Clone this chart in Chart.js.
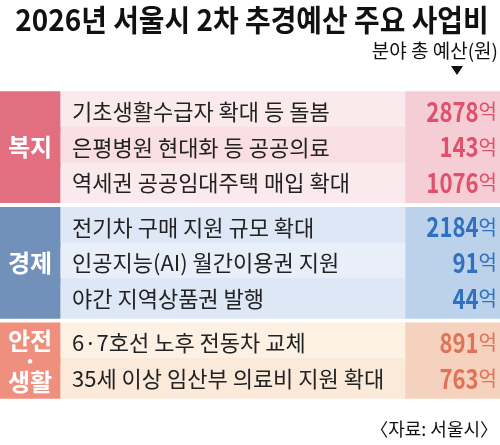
<!DOCTYPE html>
<html><head><meta charset="utf-8">
<script src="https://cdn.jsdelivr.net/npm/chart.js@4"></script>
<style>html,body{margin:0;padding:0;background:#fff}#wrap{width:500px;height:445px}</style>
</head><body><div id="wrap"><canvas id="c"></canvas></div>
<script>
const groups = ['복지', '경제', '안전·생활'];
const items = [
  '기초생활수급자 확대 등 돌봄', '은평병원 현대화 등 공공의료', '역세권 공공임대주택 매입 확대',
  '전기차 구매 지원 규모 확대', '인공지능(AI) 월간이용권 지원', '야간 지역상품권 발행',
  '6·7호선 노후 전동차 교체', '35세 이상 임산부 의료비 지원 확대'
];
const itemGroup = [0, 0, 0, 1, 1, 1, 2, 2];
const budgets = [2878, 143, 1076, 2184, 91, 44, 891, 763]; // 억원

const groupColor = ['#e26f80', '#7191bb', '#ef907f'];
const labelBg = [['#fbeaed', '#f9dfe4'], ['#e8eff9', '#dde7f5'], ['#fdf1e4', '#fbe9da']];
const valueBg = ['#f5cdd4', '#bcd2eb', '#f5d2bd'];
const valueColor = ['#e0506c', '#2f70c0', '#e27257'];

// row positions: each group separated by a small gap
const rowPos = itemGroup.map((g, i) => i + g * 0.25);

function rows(x0, x1, colorFn) {
  return {
    data: rowPos.map(y => ({ x: [x0, x1], y })),
    backgroundColor: rowPos.map((_, i) => colorFn(i)),
    borderWidth: 0, grouped: false, barThickness: 40
  };
}

const textPlugin = {
  id: 'texts',
  afterDatasetsDraw(chart) {
    const ctx = chart.ctx, ys = chart.scales.y, xs = chart.scales.x;
    const F = '"Noto Sans CJK KR", sans-serif';
    ctx.save();
    ctx.textBaseline = 'middle';
    ctx.fillStyle = '#111';
    ctx.textAlign = 'center';
    ctx.font = 'bold 30px ' + F;
    ctx.save();
    ctx.translate(252, 20);
    ctx.scale(0.93, 1);
    ctx.fillText('2026년 서울시 2차 추경예산 주요 사업비', 0, 0);
    ctx.restore();
    ctx.textAlign = 'right';
    ctx.font = '19px ' + F;
    ctx.fillText('분야 총 예산(원)', 498, 51);
    ctx.beginPath();
    ctx.moveTo(451, 66); ctx.lineTo(463, 66); ctx.lineTo(457, 75); ctx.closePath(); ctx.fill();
    ctx.font = '18px ' + F;
    ctx.fillText('〈자료: 서울시〉', 498, 429);

    items.forEach((t, i) => {
      const y = ys.getPixelForValue(rowPos[i]);
      ctx.textAlign = 'left';
      ctx.fillStyle = '#222';
      ctx.font = '22px ' + F;
      ctx.fillText(t, xs.getPixelForValue(72), y);
      ctx.textAlign = 'right';
      ctx.fillStyle = valueColor[itemGroup[i]];
      ctx.font = '20px ' + F;
      ctx.fillText('억', 497, y);
      const w = ctx.measureText('억').width;
      ctx.font = 'bold 27px ' + F;
      ctx.save();
      ctx.translate(497 - w, 0);
      ctx.scale(0.82, 1);
      ctx.fillText(String(budgets[i]), 0, y);
      ctx.restore();
    });

    groups.forEach((g, gi) => {
      const idx = itemGroup.map((v, i) => v === gi ? i : -1).filter(i => i >= 0);
      const y = (ys.getPixelForValue(rowPos[idx[0]]) + ys.getPixelForValue(rowPos[idx[idx.length - 1]])) / 2;
      ctx.fillStyle = '#fff';
      ctx.textAlign = 'center';
      ctx.font = 'bold 24px ' + F;
      const x = xs.getPixelForValue(30);
      if (g.includes('·')) {
        const [a, b] = g.split('·');
        ctx.fillText(a, x, y - 20);
        ctx.fillText('·', x, y);
        ctx.fillText(b, x, y + 21);
      } else {
        ctx.fillText(g, x, y);
      }
    });
    ctx.restore();
  }
};

new Chart(document.getElementById('c'), {
  type: 'bar',
  data: {
    datasets: [
      rows(0, 60, i => groupColor[itemGroup[i]]),
      rows(60, 405, i => labelBg[itemGroup[i]][i % 2]),
      rows(405, 500, i => valueBg[itemGroup[i]])
    ]
  },
  options: {
    indexAxis: 'y',
    responsive: true, maintainAspectRatio: false, animation: false,
    layout: { padding: { top: 77, bottom: 32, left: 0, right: 0 } },
    scales: {
      x: { type: 'linear', min: 0, max: 500, display: false },
      y: { type: 'linear', min: -0.5, max: 8.0, reverse: true, display: false }
    },
    plugins: { legend: { display: false }, tooltip: { enabled: false } }
  },
  plugins: [textPlugin]
});
</script></body></html>
